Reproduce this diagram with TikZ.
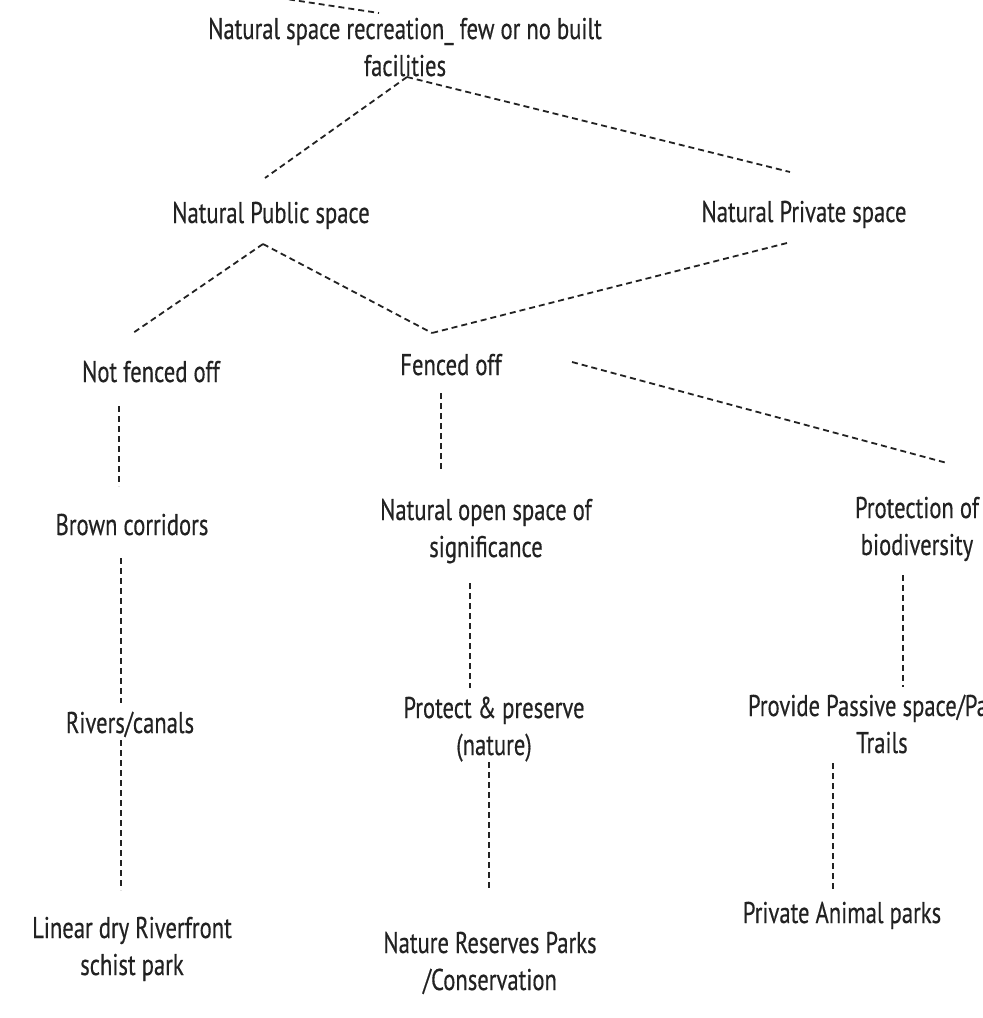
\documentclass[tikz,border=0pt]{standalone}
\usepackage{fontspec}
\setmainfont[FakeStretch=0.755, FakeBold=0.4]{PT Sans}
\definecolor{ink}{HTML}{222222}

\begin{document}
\begin{tikzpicture}[x=0.5pt, y=-0.5pt,
    every node/.style={inner sep=0pt, align=center, anchor=base, text=ink,
      font=\fontsize{15pt}{18.5pt}\selectfont},
    link/.style={draw=ink, line width=0.9pt, dash pattern=on 3pt off 2pt}]
  \clip (0, 0) rectangle (983, 1018);

  % levels of the tree (base = last line)
  \node (nsr) at (405, 76) {Natural space recreation\_ few or no built\\facilities};
  \node (pub) at (271, 223) {Natural Public space};
  \node (priv) at (804, 222) {Natural Private space};
  \node (nfo) at (151, 382) {Not fenced off};
  \node (fo) at (451, 375) {Fenced off};

  \node (brown) at (132, 535) {Brown corridors};
  \node (riv) at (130, 733) {Rivers/canals};
  \node (lin) at (132, 975) {Linear dry Riverfront\\schist park};

  \node (nos) at (486, 557) {Natural open space of\\significance};
  \node (ppr) at (494, 755) {Protect \& preserve\\(nature)};
  \node (nrp) at (490, 990) {Nature Reserves Parks\\/Conservation};

  \node (prot) at (917, 555) {Protection of\\biodiversity};
  \node (pps) at (882, 753) {Provide Passive space/Parks\\Trails};
  \node (pap) at (842, 923) {Private Animal parks};

  \coordinate (up) at (200, -14);
  \coordinate (fj) at (432, 333);

  \path[link] (up) edge ([shift={(-26,-63)}]nsr.base)
    ([shift={(2,1)}]nsr.base) edge ([shift={(-6,-45)}]pub.base)
    ([shift={(2,1)}]nsr.base) edge ([shift={(-14,-50)}]priv.base)
    ([shift={(-8,21)}]pub.base) edge ([shift={(-18,-49)}]nfo.base)
    ([shift={(-8,21)}]pub.base) edge (fj)
    ([shift={(-17,21)}]priv.base) edge (fj)
    ([shift={(121,-13)}]fo.base) edge ([shift={(30,-92)}]prot.base);

  % vertical links
  \path[link] ([shift={(-32,24)}]nfo.base) edge ([shift={(-13,-49)}]brown.base)
    ([shift={(-11,23)}]brown.base) edge ([shift={(-9,-30)}]riv.base)
    ([shift={(-9,7)}]riv.base) edge ([shift={(-11,-85)}]lin.base)
    ([shift={(-10,18)}]fo.base) edge ([shift={(-45,-87)}]nos.base)
    ([shift={(-16,26)}]nos.base) edge ([shift={(-24,-67)}]ppr.base)
    ([shift={(-5,7)}]ppr.base) edge ([shift={(-1,-102)}]nrp.base)
    ([shift={(-14,20)}]prot.base) edge ([shift={(21,-66)}]pps.base)
    ([shift={(-49,10)}]pps.base) edge ([shift={(-9,-31)}]pap.base);
\end{tikzpicture}
\end{document}
